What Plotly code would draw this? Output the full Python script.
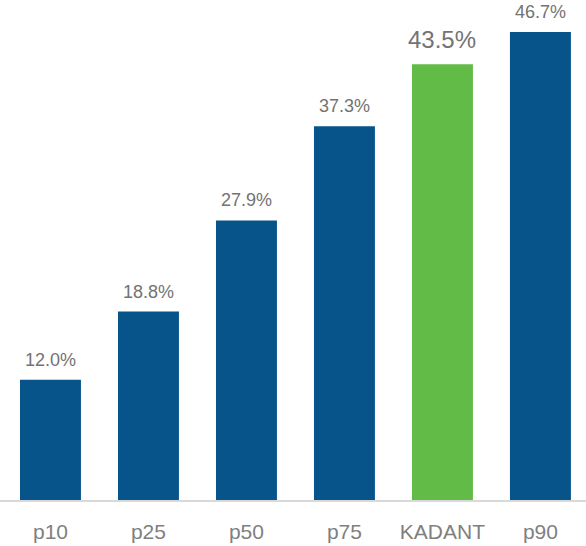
import plotly.graph_objects as go

categories = ["p10", "p25", "p50", "p75", "KADANT", "p90"]
values = [12.0, 18.8, 27.9, 37.3, 43.5, 46.7]
labels = ["12.0%", "18.8%", "27.9%", "37.3%", "43.5%", "46.7%"]
highlight = "KADANT"

BLUE = "#06548A"
GREEN = "#62BB46"
colors = [GREEN if c == highlight else BLUE for c in categories]

fig = go.Figure()
fig.add_trace(go.Bar(x=categories, y=values, marker=dict(color=colors, line=dict(width=0)),
                     hoverinfo="skip"))

for c, v, t in zip(categories, values, labels):
    big = c == highlight
    fig.add_annotation(x=c, y=v, text=t, showarrow=False, yanchor="bottom",
                       yshift=8 if not big else 9,
                       font=dict(family="Liberation Sans, Arial, sans-serif",
                                 size=24 if big else 18, color="#737373"))

fig.update_layout(
    width=586, height=546,
    margin=dict(l=0, r=0, t=0, b=46),
    paper_bgcolor="white", plot_bgcolor="white",
    bargap=0.378,
    showlegend=False,
    xaxis=dict(range=[-0.515, 5.465], showline=True, linecolor="#d9d9d9", linewidth=2,
               showgrid=False, ticks="", zeroline=False, ticklabelstandoff=12,
               tickfont=dict(family="Liberation Sans, Arial, sans-serif", size=21, color="#7f7f7f")),
    yaxis=dict(range=[0, 49.9], visible=False, showgrid=False, zeroline=False),
)

fig.write_html("out.html", config={"displayModeBar": False},
               post_script="document.body.style.margin='0px';")
